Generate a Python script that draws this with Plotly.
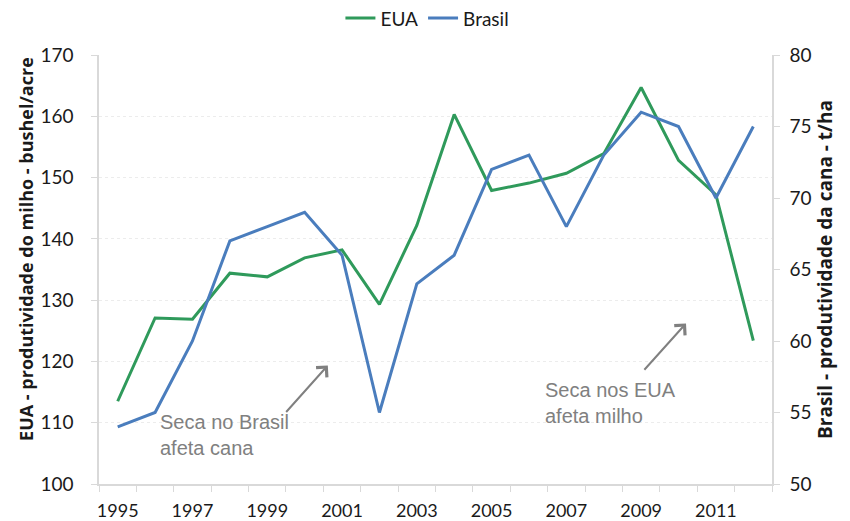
import plotly.graph_objects as go

years = list(range(1995, 2013))
eua = [113.5, 127.1, 126.9, 134.4, 133.8, 136.9, 138.2, 129.3, 142.2, 160.3,
       147.9, 149.1, 150.7, 153.9, 164.7, 152.8, 147.2, 123.4]
brasil = [54, 55, 60, 67, 68, 69, 66, 55, 64, 66,
          72, 73, 68, 73, 76, 75, 70, 75]
tick_years = list(range(1995, 2012, 2))

GREEN = "#2f9a5b"
BLUE = "#4a7dbd"
AX = "#d9d9d9"
TXT = "#1a1a1a"
FONT = "Lato, 'Open Sans', sans-serif"
TITLE_FONT = "'Open Sans', Lato, sans-serif"

fig = go.Figure()
fig.add_trace(go.Scatter(x=years, y=eua, name="EUA", mode="lines",
                         line=dict(color=GREEN, width=3), yaxis="y"))
fig.add_trace(go.Scatter(x=years, y=brasil, name="Brasil", mode="lines",
                         line=dict(color=BLUE, width=3), yaxis="y2"))

annots = [
    dict(x=1996.07, y=108, text="Seca no Brasil<br>afeta cana"),
    dict(x=2006.38, y=113.2, text="Seca nos EUA<br>afeta milho"),
]
for a in annots:
    fig.add_annotation(x=a["x"], y=a["y"], xref="x", yref="y", text=a["text"],
                       showarrow=False, xanchor="left", yanchor="middle", align="left",
                       font=dict(family="'Liberation Sans', Arial, sans-serif", size=20, color="#808080"))

arrows = [
    ((1999.47, 111.5), (2000.62, 119.35)),
    ((2009.05, 118.4), (2010.2, 126.2)),
]
for (tx, ty), (hx, hy) in arrows:
    fig.add_annotation(x=hx, y=hy, ax=tx, ay=ty, xref="x", yref="y", axref="x", ayref="y",
                       text="", showarrow=True, arrowhead=4, arrowsize=1.4, arrowwidth=2,
                       arrowcolor="#808080")

# left axis title (placed slightly above centre, as in the original)
fig.add_annotation(text="<b>EUA - produtividade do milho - bushel/acre</b>",
                   xref="paper", yref="paper", x=0, y=0.548, xanchor="center", yanchor="middle",
                   xshift=-73, textangle=-90, showarrow=False,
                   font=dict(family=TITLE_FONT, size=18, color=TXT))

fig.update_layout(
    width=842, height=513,
    margin=dict(l=91, r=78, t=47, b=37, autoexpand=False),
    paper_bgcolor="white", plot_bgcolor="white",
    font=dict(family=FONT, size=19, color=TXT),
    showlegend=True,
    legend=dict(orientation="h", x=0.488, xanchor="center", y=0.98, yanchor="middle",
                yref="container", font=dict(size=19), itemwidth=30, tracegroupgap=0),
    xaxis=dict(range=[1994.5, 2012.5], tickvals=tick_years, ticktext=[str(y) for y in tick_years],
               ticks="", showline=True, linecolor=AX, linewidth=1.5, showgrid=False, zeroline=False,
               tickfont=dict(size=18), ticklabelstandoff=10, automargin=False,
               minor=dict(ticks="outside", tick0=0.5, dtick=1, ticklen=6, tickcolor=AX, showgrid=False)),
    yaxis=dict(range=[100, 170], dtick=10, ticks="outside", ticklen=6, tickcolor=AX,
               showline=True, linecolor=AX, linewidth=1.5, tickfont=dict(size=19),
               ticklabelstandoff=14, automargin=False,
               showgrid=True, gridcolor="#ececec", griddash="dot", zeroline=False),
    yaxis2=dict(range=[50, 80], dtick=5, overlaying="y", side="right", ticks="outside", ticklen=6,
                tickcolor=AX, showline=True, linecolor=AX, linewidth=1.5, showgrid=False, zeroline=False,
                tickfont=dict(size=19), ticklabelstandoff=6, automargin=False,
                title=dict(text="<b>Brasil - produtividade da cana - t/ha</b>",
                           font=dict(family=TITLE_FONT, size=19), standoff=7)),
)

fig.write_html("out.html")
